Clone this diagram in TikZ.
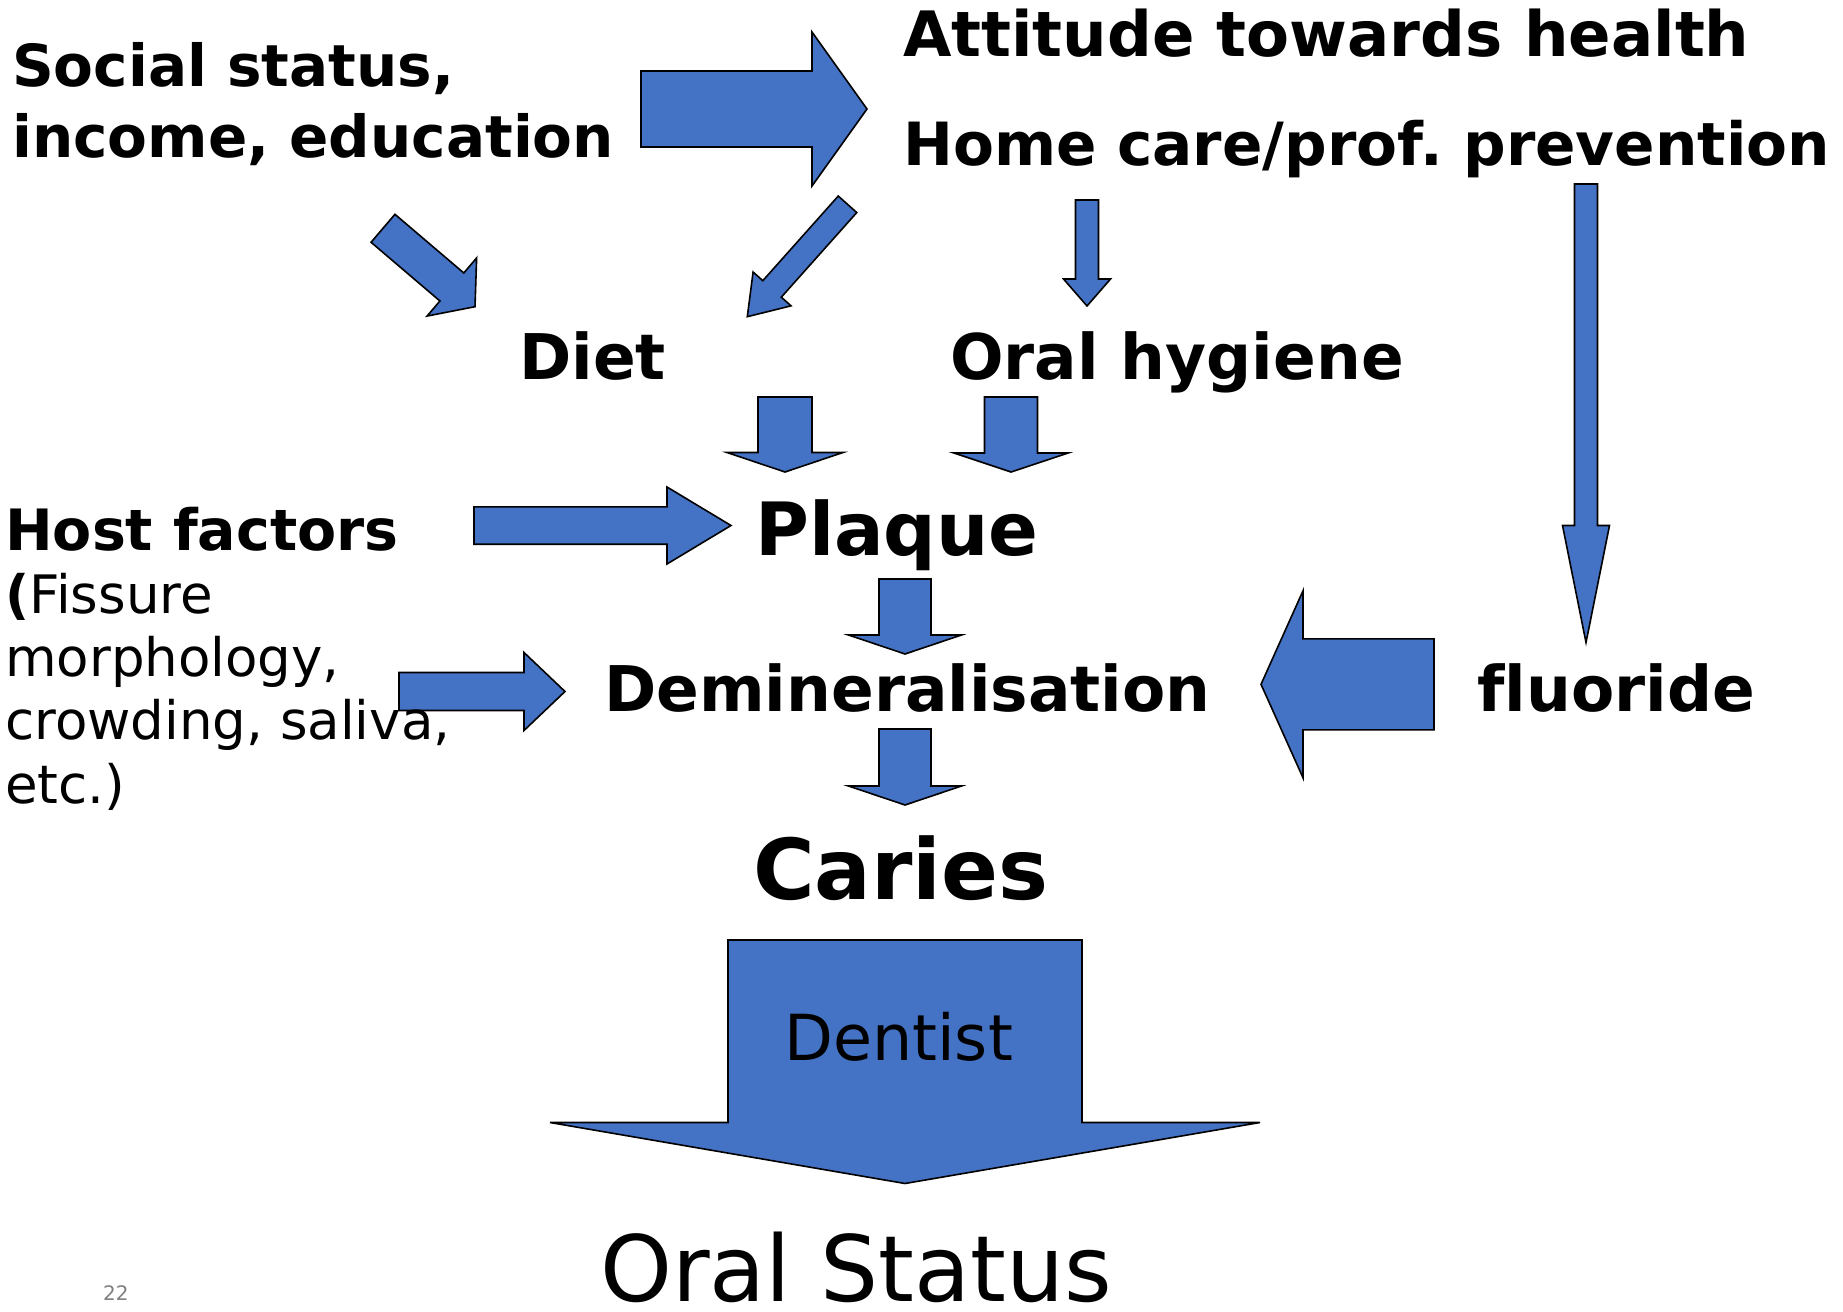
\documentclass[tikz,border=0pt]{standalone}
\usepackage{fontspec}
\setmainfont[Ligatures=NoCommon]{DejaVu Sans}
\usetikzlibrary{calc}
\definecolor{ablue}{HTML}{4472C4}
\tikzset{
  blockarr/.style={fill=ablue, draw=black, line width=1.6pt, line join=miter},
  lbl/.style={inner sep=0pt, anchor=base west, text=black, align=left},
}
\newcommand\fsz[2]{\fontsize{#1}{#2}\selectfont}
% start, tip, half shaft width, half head width, head length
\newcommand\blockarrow[5]{%
  \coordinate (ba-h) at ($(#2)!#5!(#1)$);
  \draw[blockarr] ($(#1)!#3!90:(#2)$) -- ($(ba-h)!#3!90:(#2)$) -- ($(ba-h)!#4!90:(#2)$)
    -- (#2) -- ($(ba-h)!#4!-90:(#2)$) -- ($(ba-h)!#3!-90:(#2)$) -- ($(#1)!#3!-90:(#2)$) -- cycle;
}
\frenchspacing
\begin{document}
\begin{tikzpicture}[x=1pt,y=-1pt]
\useasboundingbox (0,0) rectangle (1843,1311);
\fill[white] (0,0) rectangle (1843,1311);

% arrow end points
\coordinate (As) at (641,109);     \coordinate (At) at (867,109);
\coordinate (Bs) at (383,228.3);   \coordinate (Bt) at (475,306.7);
\coordinate (Cs) at (847.5,204.3); \coordinate (Ct) at (747.3,316.7);
\coordinate (Ds) at (1087,200);    \coordinate (Dt) at (1087,306);
\coordinate (Es) at (1586,184);    \coordinate (Et) at (1586,642.5);
\coordinate (Fs) at (785,397);     \coordinate (Ft) at (785,472);
\coordinate (Gs) at (1011,397);    \coordinate (Gt) at (1011,472);
\coordinate (Hs) at (474,525.5);   \coordinate (Ht) at (731,525.5);
\coordinate (Is) at (399,691.5);   \coordinate (It) at (565,691.5);
\coordinate (Js) at (905,579);     \coordinate (Jt) at (905,654);
\coordinate (Ks) at (905,729);     \coordinate (Kt) at (905,805);
\coordinate (Ls) at (1434,684.3);  \coordinate (Lt) at (1261,684.3);
\coordinate (Ms) at (905,940);     \coordinate (Mt) at (905,1183.5);

\blockarrow{As}{At}{38pt}{77pt}{55pt}
\blockarrow{Bs}{Bt}{18.4pt}{38.2pt}{30.4pt}
\blockarrow{Cs}{Ct}{12.4pt}{25.4pt}{37.2pt}
\blockarrow{Ds}{Dt}{11.5pt}{23.5pt}{27pt}
\blockarrow{Es}{Et}{11.5pt}{23.5pt}{117pt}
\blockarrow{Fs}{Ft}{27pt}{58pt}{19.5pt}
\blockarrow{Gs}{Gt}{26.5pt}{57pt}{19pt}
\blockarrow{Hs}{Ht}{18.7pt}{38.5pt}{64pt}
\blockarrow{Is}{It}{19pt}{39pt}{41pt}
\blockarrow{Js}{Jt}{26pt}{56.5pt}{19pt}
\blockarrow{Ks}{Kt}{26pt}{56.5pt}{19pt}
\blockarrow{Ls}{Lt}{45.5pt}{93.5pt}{42pt}
\blockarrow{Ms}{Mt}{177pt}{355pt}{61pt}

% labels (multi-line nodes: base anchor is the last line)
\node[lbl, font=\fsz{58}{70.6}\bfseries] (social) at (12,157.3) {Social status,\\income, education};
\node[lbl, font=\fsz{62.6}{70}\bfseries] (attitude) at (903,56.7) {Attitude towards health};
\node[lbl, font=\fsz{59.6}{70}\bfseries] (homecare) at (903,165) {Home care/prof. prevention};
\node[lbl, font=\fsz{63}{70}\bfseries] (diet) at (519,379.6) {Diet};
\node[lbl, font=\fsz{63}{70}\bfseries] (hygiene) at (950,379.6) {Oral hygiene};
\node[lbl, font=\fsz{57}{63.3}\bfseries] (host) at (5,550) {Host factors};
\node[lbl, font=\fsz{53}{63.3}] (hostdetail) at (5,803) {\textbf{(}Fissure\\morphology,\\crowding, saliva,\\etc.)};
\node[lbl, font=\fsz{73.5}{80}\bfseries] (plaque) at (755,555.6) {Plaque};
\node[lbl, font=\fsz{63}{70}\bfseries] (demin) at (604,711.4) {Demineralisation};
\node[lbl, font=\fsz{63}{70}\bfseries] (fluoride) at (1477,711.4) {fluoride};
\node[lbl, font=\fsz{84}{90}\bfseries] (caries) at (753,899) {Caries};
\node[lbl, font=\fsz{63.5}{70}] (dentist) at (784,1060) {Dentist};
\node[lbl, font=\fsz{91.5}{95}, text depth=0pt] (oralstatus) at (600,1301) {Oral Status};
\node[lbl, font=\fsz{20}{22}, text=gray] (pagenum) at (103,1300) {22};
\end{tikzpicture}
\end{document}
